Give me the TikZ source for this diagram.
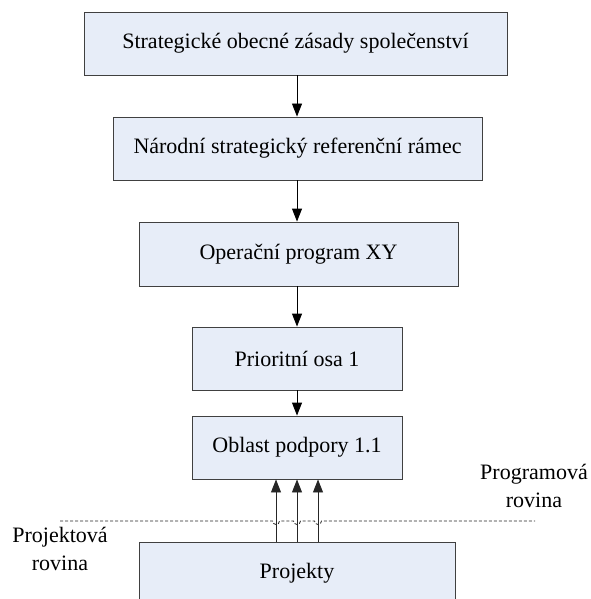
\documentclass[tikz,border=0pt]{standalone}
\usepackage{fontspec}
\setmainfont{Liberation Serif}
\usetikzlibrary{arrows.meta}
\begin{document}
\begin{tikzpicture}[x=1pt,y=-1pt,
  box/.style={draw=black!75, fill={rgb,255:red,231;green,237;blue,248}, line width=0.9pt, inner sep=0pt, font=\fontsize{22}{26}\selectfont},
  arr/.style={line width=0.9pt, -{Triangle[length=13pt,width=10pt]}},
  lab/.style={align=center, font=\fontsize{22}{28}\selectfont, inner sep=0pt}]
\path[use as bounding box, clip] (0,0) rectangle (590,599);
\node[box, minimum width=423pt, minimum height=63pt] (b1) at (295.5,43.5) {Strategické obecné zásady společenství};
\node[box, minimum width=369pt, minimum height=63pt] (b2) at (297.5,148.5) {Národní strategický referenční rámec};
\node[box, minimum width=319pt, minimum height=64pt] (b3) at (298.5,254) {Operační program XY};
\node[box, minimum width=210pt, minimum height=63pt] (b4) at (297,358.5) {Prioritní osa 1};
\node[box, minimum width=210pt, minimum height=63pt] (b5) at (297,447.5) {Oblast podpory 1.1};
\node[box, minimum width=316pt, minimum height=63pt] (b6) at (297,573.5) {Projekty};
\draw[arr] (b1.south -| 297,0) -- (b2.north -| 297,0);
\draw[arr] (b2.south -| 297,0) -- (b3.north -| 297,0);
\draw[arr] (b3.south -| 297,0) -- (b4.north -| 297,0);
\draw[arr] (b4.south -| 297,0) -- (b5.north -| 297,0);
\foreach \dx in {-21,0,21}{
  \draw[arr, black!85] ([xshift=\dx pt]b6.north) -- ([xshift=\dx pt]b5.south);
}
\coordinate (dl) at (60,521);
\coordinate (dr) at (535,521);
\draw[black!85, line width=0.8pt, dash pattern=on 3pt off 2pt]
  (dl) -- (272.5,521) arc[start angle=180, end angle=0, radius=3.5]
  -- (293.5,521) arc[start angle=180, end angle=0, radius=3.5]
  -- (314.5,521) arc[start angle=180, end angle=0, radius=3.5]
  -- (dr);
\node[lab] (pr) at (534,486) {Programová\\rovina};
\node[lab] (pj) at (60,549) {Projektová\\rovina};
\end{tikzpicture}
\end{document}
